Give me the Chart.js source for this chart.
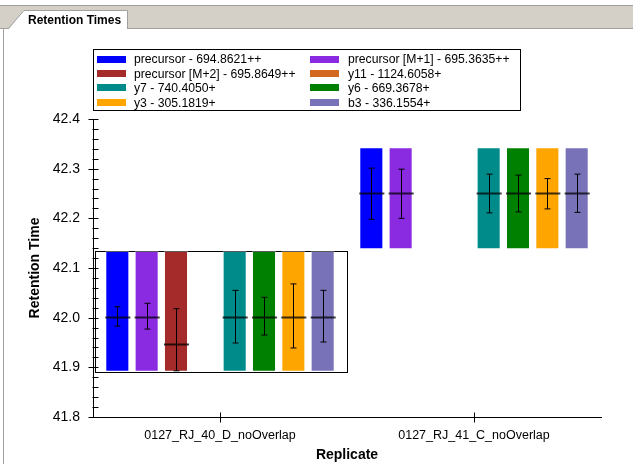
<!DOCTYPE html>
<html>
<head>
<meta charset="utf-8">
<script src="https://cdn.jsdelivr.net/npm/chart.js@4"></script>
<style>
  body { margin: 0; background: #fff; }
  #wrap { position: relative; width: 633px; height: 464px; overflow: hidden; font-family: "Liberation Sans", Arial, sans-serif; }
  #chart { position: absolute; left: 0; top: 0; }
  #strip { position: absolute; left: 0; top: 5px; width: 633px; height: 22px; background: #d4d0c8; border-top: 1px solid #a0a0a0; border-bottom: 1px solid #a0a0a0; }
  #leftLine { position: absolute; left: 3px; top: 28px; width: 1px; height: 436px; background: #a0a0a0; }
  #tab { position: absolute; left: 0; top: 0; }
  #tabText { position: absolute; left: 28px; top: 13px; font-weight: bold; font-size: 12px; color: #000; }
</style>
</head>
<body>
<div id="wrap">
  <canvas id="chart" width="633" height="464"></canvas>
  <div id="strip"></div>
  <div id="leftLine"></div>
  <svg id="tab" width="140" height="30">
    <polygon points="8,30 24,10.5 128,10.5 128,30" fill="#fff"/>
    <polyline points="8,29 24,10.5 127.5,10.5 127.5,29" fill="none" stroke="#a0a0a0" stroke-width="1"/>
  </svg>
  <div id="tabText">Retention Times</div>
</div>
<script>
// Sample data
const replicates = ['0127_RJ_40_D_noOverlap', '0127_RJ_41_C_noOverlap'];
const transitions = ['precursor - 694.8621++', 'precursor [M+1] - 695.3635++', 'precursor [M+2] - 695.8649++',
    'y11 - 1124.6058+', 'y7 - 740.4050+', 'y6 - 669.3678+', 'y3 - 305.1819+', 'b3 - 336.1554+'];
const colors = ['#0000ff', '#8a2be2', '#a52a2a', '#d2691e', '#008b8b', '#008000', '#ffa500', '#7872b8'];
// peak boundaries per replicate
const peakStart = [41.891, 42.138];
const peakEnd = [42.134, 42.343];
// retention time per transition, per replicate (null = no peak)
const rtMean = [
    [42.001, 42.250],
    [42.001, 42.250],
    [41.947, null],
    [null, null],
    [42.001, 42.250],
    [42.001, 42.250],
    [42.001, 42.250],
    [42.001, 42.250]
];
// FWHM whiskers
const fwhmLow = [
    [41.983, 42.198],
    [41.977, 42.200],
    [41.893, null],
    [null, null],
    [41.949, 42.211],
    [41.965, 42.213],
    [41.939, 42.219],
    [41.951, 42.212]
];
const fwhmHigh = [
    [42.022, 42.301],
    [42.029, 42.299],
    [42.018, null],
    [null, null],
    [42.055, 42.289],
    [42.041, 42.287],
    [42.068, 42.280],
    [42.055, 42.289]
];
const yMin = 41.8, yMax = 42.4, yStep = 0.1, yMinorStep = 0.02;
const selectedReplicate = 0;

const FONT = 'Liberation Sans, Arial, sans-serif';

// white box with black border round the selected replicate
const selectionBox = {
    id: 'selectionBox',
    beforeDatasetsDraw(chart) {
        const {ctx, scales: {x, y}} = chart;
        const half = x.width / replicates.length / 2;
        const cx = x.getPixelForValue(selectedReplicate);
        const left = Math.round(cx - half + 2) + 0.5;
        const right = Math.round(cx + half) + 0.5;
        const top = Math.round(y.getPixelForValue(peakEnd[selectedReplicate])) + 0.5;
        const bottom = Math.round(y.getPixelForValue(peakStart[selectedReplicate])) + 0.5;
        ctx.save();
        ctx.fillStyle = '#fff';
        ctx.fillRect(left, top, right - left, bottom - top);
        ctx.strokeStyle = '#000';
        ctx.lineWidth = 1;
        ctx.strokeRect(left, top, right - left, bottom - top);
        ctx.restore();
    }
};

// retention time line and FWHM whiskers on each bar
const rtMarks = {
    id: 'rtMarks',
    afterDatasetsDraw(chart) {
        const {ctx, scales: {y}} = chart;
        ctx.save();
        chart.data.datasets.forEach((ds, d) => {
            chart.getDatasetMeta(d).data.forEach((bar, i) => {
                if (rtMean[d][i] == null) return;
                const w = bar.width;
                const ym = Math.round(y.getPixelForValue(rtMean[d][i])) + 0.5;
                ctx.strokeStyle = 'rgba(0,0,0,0.75)';
                ctx.lineWidth = 2;
                ctx.beginPath();
                ctx.moveTo(bar.x - w / 2, ym);
                ctx.lineTo(bar.x + w / 2 + 1, ym);
                ctx.stroke();
                const xc = Math.round(bar.x) + 0.5;
                const yl = y.getPixelForValue(fwhmLow[d][i]);
                const yh = y.getPixelForValue(fwhmHigh[d][i]);
                ctx.strokeStyle = '#000';
                ctx.lineWidth = 1;
                ctx.beginPath();
                ctx.moveTo(xc, yl); ctx.lineTo(xc, yh);
                ctx.moveTo(xc - 3, yl); ctx.lineTo(xc + 3, yl);
                ctx.moveTo(xc - 3, yh); ctx.lineTo(xc + 3, yh);
                ctx.stroke();
            });
        });
        ctx.restore();
    }
};

// ZedGraph style axis ticks: major cross the axis, minor inside
const axisTicks = {
    id: 'axisTicks',
    afterDraw(chart) {
        const {ctx, scales: {x, y}, chartArea} = chart;
        ctx.save();
        ctx.strokeStyle = '#000';
        ctx.lineWidth = 1;
        ctx.beginPath();
        const ax = chartArea.left + 0.5;
        const n = Math.round((yMax - yMin) / yMinorStep);
        for (let k = 0; k <= n; k++) {
            const py = Math.round(y.getPixelForValue(yMin + k * yMinorStep)) + 0.5;
            const major = k % Math.round(yStep / yMinorStep) === 0;
            ctx.moveTo(major ? ax - 5 : ax - 1, py);
            ctx.lineTo(ax + 5, py);
        }
        const ay = chartArea.bottom + 0.5;
        replicates.forEach((r, i) => {
            const px = Math.round(x.getPixelForValue(i)) + 0.5;
            ctx.moveTo(px, ay - 5);
            ctx.lineTo(px, ay + 5);
        });
        ctx.stroke();
        ctx.restore();
    }
};

// two column legend in a box
const boxLegend = {
    id: 'boxLegend',
    afterDraw(chart) {
        const {ctx} = chart;
        const cols = [97, 310], textX = [134, 348];
        ctx.save();
        ctx.strokeStyle = '#000';
        ctx.lineWidth = 1;
        ctx.strokeRect(93.5, 49.5, 427, 61);
        ctx.font = '12.2px ' + FONT;
        ctx.textBaseline = 'middle';
        ctx.fillStyle = '#000';
        chart.data.datasets.forEach((ds, d) => {
            const c = d % 2, r = Math.floor(d / 2);
            const cy = 59 + r * 14.4;
            ctx.fillStyle = ds.backgroundColor;
            ctx.fillRect(cols[c], Math.round(cy - 3.5), 29, 7);
            ctx.fillStyle = '#000';
            ctx.fillText(ds.label, textX[c], cy + 1);
        });
        ctx.restore();
    }
};

const rtChart = new Chart(document.getElementById('chart'), {
    type: 'bar',
    data: {
        labels: replicates,
        datasets: transitions.map((t, d) => ({
            label: t,
            data: replicates.map((r, i) => rtMean[d][i] == null ? null : [peakStart[i], peakEnd[i]]),
            backgroundColor: colors[d],
            borderColor: 'rgba(255,255,255,0.35)',
            borderWidth: 1,
            borderSkipped: false,
            categoryPercentage: 0.924,
            barPercentage: 0.82
        }))
    },
    options: {
        responsive: false,
        animation: false,
        devicePixelRatio: 1,
        layout: { padding: { top: 119, right: 32, left: 0, bottom: 0 } },
        plugins: {
            legend: { display: false },
            tooltip: { enabled: false }
        },
        scales: {
            x: {
                afterFit(s) { s.height = 47; },
                grid: { display: false, drawTicks: false },
                border: { display: true, color: '#000', width: 1 },
                ticks: { color: '#000', padding: 11, maxRotation: 0, font: { family: FONT, size: 12.5 } },
                title: { display: true, text: 'Replicate', color: '#000', padding: { top: 0, bottom: 0 },
                    font: { family: FONT, size: 14, weight: 'bold' } }
            },
            y: {
                min: yMin,
                max: yMax,
                afterFit(s) { s.width = 93; },
                grid: { display: false, drawTicks: false },
                border: { display: true, color: '#000', width: 1 },
                ticks: { stepSize: yStep, color: '#000', padding: 13, font: { family: FONT, size: 14 },
                    callback: v => v.toFixed(1) },
                title: { display: true, text: 'Retention Time', color: '#000', padding: { top: 27, bottom: 0 },
                    font: { family: FONT, size: 14, weight: 'bold' } }
            }
        }
    },
    plugins: [selectionBox, rtMarks, axisTicks, boxLegend]
});
</script>
</body>
</html>
